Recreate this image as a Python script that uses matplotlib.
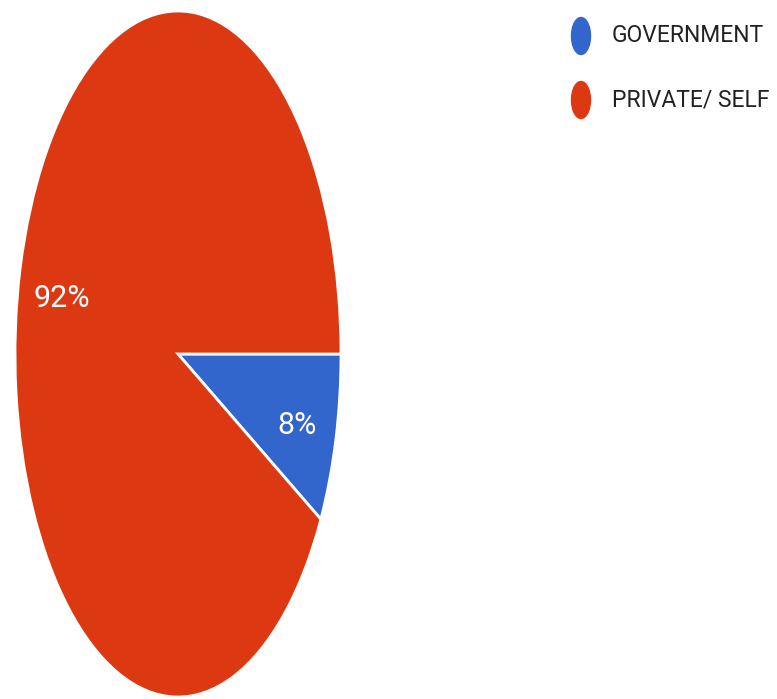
import matplotlib
matplotlib.use("Agg")
import matplotlib.pyplot as plt
import matplotlib.transforms as mtransforms
from matplotlib.patches import Ellipse

labels = ["GOVERNMENT", "PRIVATE/ SELF"]
values = [8, 92]
colors = ["#3366CC", "#DC3912"]

W, H = 777, 699
fig = plt.figure(figsize=(W / 100, H / 100), dpi=100)

# pie is squashed into an ellipse, so the axes aspect is left free
cx, cy, rx, ry = 178, 354, 163, 343
ax = fig.add_axes([(cx - rx) / W, (H - cy - ry) / H, 2 * rx / W, 2 * ry / H])
wedges, texts, autotexts = ax.pie(
    values, colors=colors, startangle=0, counterclock=False,
    autopct="%1.0f%%", pctdistance=0.745,
    wedgeprops=dict(edgecolor="white", linewidth=2),
    textprops=dict(color="white", fontsize=22, family=["Roboto", "DejaVu Sans"]),
)
# nudge the percent labels down a little
shift = mtransforms.offset_copy(ax.transData, fig=fig, x=1, y=-8, units="dots")
for t in autotexts:
    t.set_transform(shift)
ax.set_aspect("auto")
ax.set_xlim(-1, 1)
ax.set_ylim(-1, 1)
ax.axis("off")

# legend drawn by hand so the dots stay oval like the reference
lax = fig.add_axes([0, 0, 1, 1])
lax.set_xlim(0, W)
lax.set_ylim(H, 0)
lax.axis("off")
for i, (lab, col) in enumerate(zip(labels, colors)):
    y = 36 + i * 64
    lax.add_patch(Ellipse((581, y), 19, 37, color=col))
    lax.text(612, y, lab, va="center", ha="left", fontsize=16.5, color="#222222",
             family=["Roboto", "DejaVu Sans"])

fig.savefig("out.png", dpi=100)
